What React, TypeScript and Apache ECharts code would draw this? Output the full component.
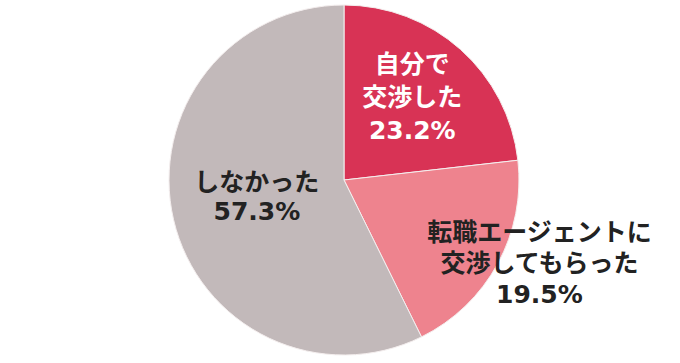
import React, { useEffect, useRef } from "react";
import * as echarts from "echarts";

const categories = ["自分で\n交渉した", "転職エージェントに\n交渉してもらった", "しなかった"];
const values = [23.2, 19.5, 57.3];
const colors = ["#d83355", "#ee838e", "#c2b9ba"];
const labelColors = ["#ffffff", "#222222", "#222222"];
const lineHeights = [33, 31, 29];
const labelShift = [
  [8, -15],
  [116, 40],
  [1, -4],
];

export default function App() {
  const ref = useRef<HTMLDivElement>(null);
  useEffect(() => {
    document.body.style.margin = "0";
    const chart = echarts.init(ref.current!, undefined, { renderer: "svg" });
    chart.setOption({
      animation: false,
      backgroundColor: "#ffffff",
      series: [
        {
          type: "pie",
          center: [344, 180],
          radius: 175,
          startAngle: 90,
          clockwise: true,
          avoidLabelOverlap: false,
          itemStyle: { borderColor: "#f4eeee", borderWidth: 1 },
          labelLine: { show: false },
          data: categories.map((c, i) => ({
            name: c,
            value: values[i],
            itemStyle: { color: colors[i] },
            label: {
              show: true,
              position: "inside",
              color: labelColors[i],
              fontSize: 25,
              fontWeight: "bold",
              fontFamily: "DejaVu Sans, Noto Sans CJK JP, sans-serif",
              lineHeight: lineHeights[i],
              align: "center",
              formatter: () => `${c}\n${values[i].toFixed(1)}%`,
            },
          })),
          labelLayout: (p: any) => ({
            dx: labelShift[p.dataIndex][0],
            dy: labelShift[p.dataIndex][1],
          }),
        },
      ],
    });
    return () => chart.dispose();
  }, []);
  return <div ref={ref} style={{ width: 680, height: 363 }} />;
}
